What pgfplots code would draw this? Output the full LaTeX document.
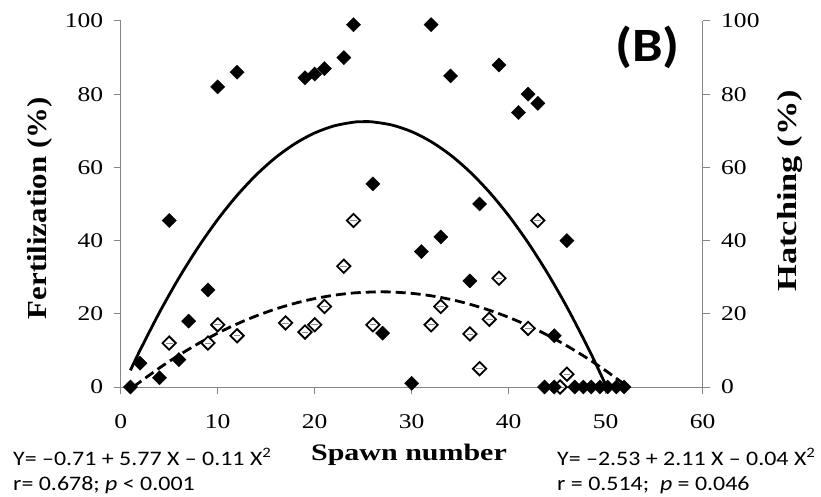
\documentclass[border=0pt]{standalone}
\usepackage{fontspec}
\setmainfont{Liberation Serif}
\newfontfamily\tickfont{Liberation Serif}[FakeStretch=1.22]
\newfontfamily\xlabfont{Liberation Serif}[FakeStretch=1.27]
\newfontfamily\fertfont{Liberation Serif}[FakeStretch=1.12]
\newfontfamily\hatchfont{Liberation Serif}[FakeStretch=1.25]
\newfontfamily\eqfont{Carlito}[FakeStretch=1.16]
\newfontfamily\bfont{Carlito}[FakeStretch=1.14]
\usepackage{pgfplots}
\pgfplotsset{compat=1.18}
\usetikzlibrary{calc}
\definecolor{axgray}{RGB}{134,134,134}

\pgfplotstableread{
x y
1 0
2 6.5
4 2.5
5 45.5
6 7.5
7 18
9 26.5
10 82
12 86
19 84.5
20 85.5
21 87
23 90
24 99
26 55.5
27 14.7
30 1
31 37
32 99
33 41
34 85
36 29
37 50
39 88
41 75
42 80
43 77.5
43.7 0
44.7 0
44.7 14
46 40
46.8 0
47.7 0
48.5 0
49.4 0
50.2 0
51.1 0
51.9 0
}\fert

\pgfplotstableread{
x y
5 12
9 12
10 17
12 14
17 17.5
19 15
20 17
21 22
23 33
24 45.5
26 17
32 17
33 22
36 14.5
37 5
38 18.5
39 29.7
42 16
43 45.5
45.3 0
46 3.5
}\hatch

\pgfplotstableread{
x y
1 4.55
2 10.07
4 20.39
6 29.78
8 38.23
10 45.76
12 52.36
14 58.02
16 62.75
18 66.54
20 69.41
22 71.34
24 72.35
25 72.5
26 72.42
28 71.55
30 69.76
32 67.03
34 63.38
36 58.78
38 53.26
40 46.81
42 39.42
44 31.10
46 21.85
48 11.67
49 6.23
50 0.56
50.1 0
}\fertfit

\pgfplotstableread{
x y
1.3 0
2 1.4
4 5.21
6 8.69
8 11.86
10 14.71
12 17.24
14 19.45
16 21.33
18 22.9
20 24.15
22 25.08
24 25.69
26 25.97
27 26
28 25.94
30 25.59
32 24.92
34 23.93
36 22.61
38 20.98
40 19.03
42 16.76
44 14.17
46 11.25
48 8.02
50 4.47
52 0.6
}\hatchfit

\begin{document}
\begin{tikzpicture}
\begin{axis}[name=ax,
  scale only axis, width=582bp, height=366bp,
  xmin=0, xmax=60, ymin=0, ymax=100,
  axis x line*=bottom, axis y line*=left,
  xtick={0,10,...,60}, ytick={0,20,...,100},
  tick align=outside, major tick length=7bp,
  axis line style={axgray, line width=1bp, -},
  tick style={axgray, line width=1bp},
  /pgf/number format/assume math mode=true,
  ticklabel style={font=\tickfont\fontsize{21}{21}\selectfont, black},
  xticklabel style={yshift=-17bp},
  yticklabel style={xshift=-7bp},
  ylabel={Fertilization (\%)},
  ylabel style={font=\fertfont\bfseries\fontsize{27.6}{27.6}\selectfont, at={(axis description cs:-0.138,0.488)}, anchor=center},
  xlabel={Spawn number},
  xlabel style={font=\xlabfont\bfseries\fontsize{23.7}{23.7}\selectfont, at={(axis description cs:0.4954,-0.1995)}, anchor=base},
  clip=false]
\addplot[only marks, mark=square*, mark size=4.7bp, mark options={rotate=45, fill=white, draw=black, line width=1.8bp}] table[x=x,y=y] {\hatch};
\addplot[only marks, mark=-, mark size=3.4bp, mark options={draw=black!45, line width=0.7bp}] table[x=x,y=y] {\hatch};
\addplot[only marks, mark=square*, mark size=5bp, mark options={rotate=45, fill=black, draw=black}] table[x=x,y=y] {\fert};
\addplot[black, line width=2.8bp, smooth, no marks] table[x=x,y=y] {\fertfit};
\addplot[black, line width=2.8bp, smooth, no marks, dash pattern=on 10bp off 5bp] table[x=x,y=y] {\hatchfit};
\end{axis}
\begin{axis}[
  scale only axis, width=582bp, height=366bp,
  xmin=0, xmax=60, ymin=0, ymax=100,
  axis x line=none, axis y line*=right,
  ytick={0,20,...,100},
  tick align=outside, major tick length=7bp,
  axis line style={axgray, line width=1bp, -},
  tick style={axgray, line width=1bp},
  /pgf/number format/assume math mode=true,
  ticklabel style={font=\tickfont\fontsize{21}{21}\selectfont, black},
  yticklabel style={xshift=8bp},
  ylabel={Hatching (\%)},
  ylabel style={font=\hatchfont\bfseries\fontsize{27.6}{27.6}\selectfont, at={(axis description cs:1.150,0.536)}, anchor=center},
  clip=false]
\end{axis}
\node[font=\bfont\bfseries\fontsize{48}{48}\selectfont, anchor=base] at ($(ax.south west)+(526.8bp,325bp)$) {(B)};
\node[font=\eqfont\fontsize{20.7}{20.7}\selectfont, anchor=base west, inner sep=0pt] at ($(ax.south west)+(-107.7bp,-78bp)$) {Y= –0.71 + 5.77 X – 0.11 X\textsuperscript{2}};
\node[font=\eqfont\fontsize{20.7}{20.7}\selectfont, anchor=base west, inner sep=0pt] at ($(ax.south west)+(-107.7bp,-103bp)$) {r= 0.678; \textit{p} < 0.001};
\node[font=\eqfont\fontsize{20.7}{20.7}\selectfont, anchor=base west, inner sep=0pt] at ($(ax.south west)+(436.3bp,-78bp)$) {Y= –2.53 + 2.11 X – 0.04 X\textsuperscript{2}};
\node[font=\eqfont\fontsize{20.7}{20.7}\selectfont, anchor=base west, inner sep=0pt] at ($(ax.south west)+(436.3bp,-103bp)$) {r = 0.514; \ \textit{p} = 0.046};
\pgfresetboundingbox
\path[use as bounding box] ($(ax.south west)+(-120.7bp,-110bp)$) rectangle ++(821bp,497bp);
\end{tikzpicture}
\end{document}
